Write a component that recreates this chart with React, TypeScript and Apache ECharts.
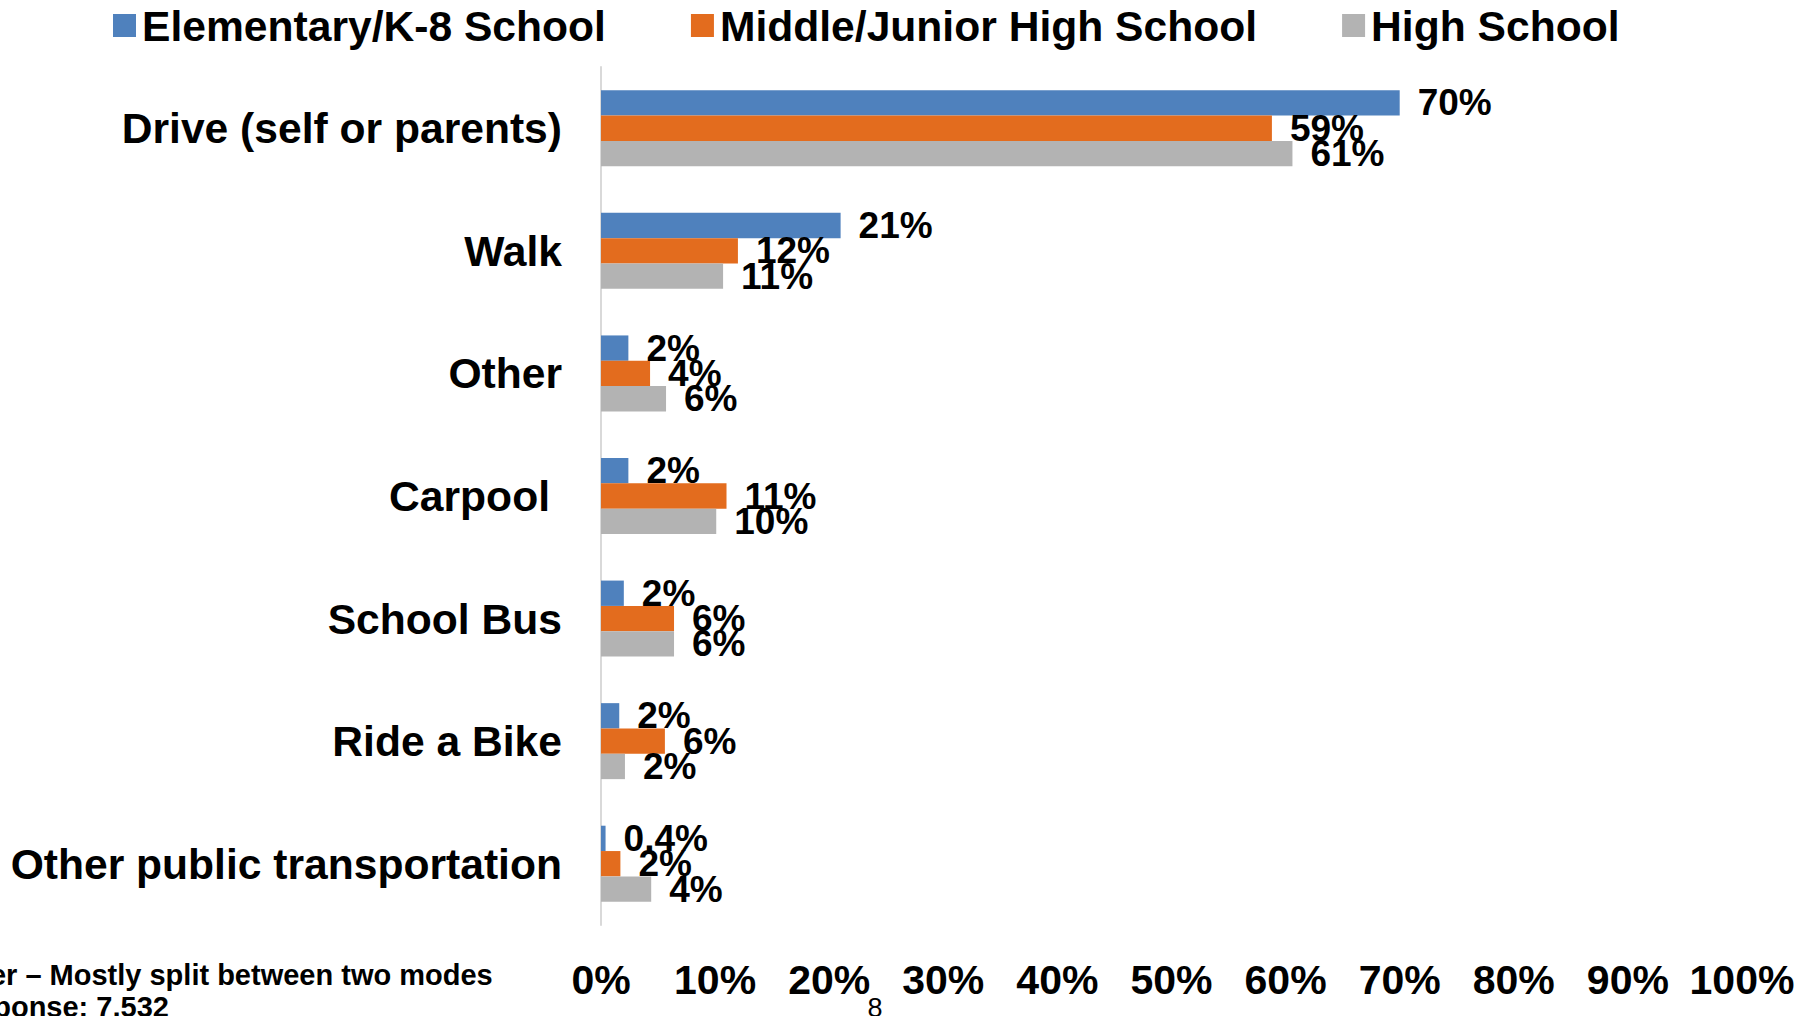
import React, { useEffect, useRef } from "react";
import * as echarts from "echarts";

const categories = [
  "Drive (self or parents)",
  "Walk",
  "Other",
  "Carpool",
  "School Bus",
  "Ride a Bike",
  "Other public transportation",
];
const seriesNames = ["Elementary/K-8 School", "Middle/Junior High School", "High School"];
const elementary = [70, 21, 2.4, 2.4, 2.0, 1.6, 0.4];
const middle = [58.8, 12, 4.3, 11, 6.4, 5.6, 1.7];
const high = [60.6, 10.7, 5.7, 10.1, 6.4, 2.1, 4.4];
const xTicks = [0, 10, 20, 30, 40, 50, 60, 70, 80, 90, 100];
const footnoteLines = ["Other – Mostly split between two modes", "Response: 7,532"];
const pageNumber = "8";

const FONT = "'Liberation Sans', Arial, Helvetica, sans-serif";
const colors = ["#4f81bd", "#e36c1e", "#b3b3b3"];

function fmtPct(v: number) {
  return v < 1 ? v.toFixed(1) + "%" : Math.round(v) + "%";
}

export default function App() {
  const ref = useRef<HTMLDivElement>(null);
  useEffect(() => {
    if (!ref.current) return;
    const chart = echarts.init(ref.current, undefined, { renderer: "svg" });
    const dataSets = [elementary, middle, high];
    chart.setOption({
      animation: false,
      backgroundColor: "#ffffff",
      legend: {
        top: -1,
        left: 108,
        itemWidth: 23,
        itemHeight: 23,
        itemGap: 85,
        icon: "rect",
        data: seriesNames,
        textStyle: {
          fontFamily: FONT,
          fontWeight: "bold",
          fontSize: 42.6,
          color: "#000",
          padding: [0, 0, 0, 1],
        },
      },
      grid: { left: 601, right: 62, top: 67, bottom: 91, containLabel: false },
      xAxis: {
        type: "value",
        min: 0,
        max: 100,
        interval: 10,
        axisLine: { show: false },
        axisTick: { show: false },
        splitLine: { show: false },
        axisLabel: {
          margin: 34,
          fontFamily: FONT,
          fontWeight: "bold",
          fontSize: 41,
          color: "#000",
          formatter: (v: number) => (xTicks.includes(v) ? v + "%" : ""),
        },
      },
      yAxis: {
        type: "category",
        inverse: true,
        data: categories,
        axisLine: { show: true, lineStyle: { color: "#d9d9d9", width: 2 } },
        axisTick: { show: false },
        axisLabel: {
          margin: 39,
          fontFamily: FONT,
          fontWeight: "bold",
          fontSize: 42.6,
          color: "#000",
          formatter: (v: string) => (v === "Carpool" ? "{c|" + v + "}" : v),
          rich: {
            c: {
              fontFamily: FONT,
              fontWeight: "bold",
              fontSize: 42.6,
              color: "#000",
              padding: [0, 12, 0, 0],
            },
          },
        },
      },
      series: seriesNames.map((name, i) => ({
        name,
        type: "bar",
        data: dataSets[i],
        barGap: "0%",
        barCategoryGap: "38%",
        itemStyle: { color: colors[i] },
        label: {
          show: true,
          position: "right",
          distance: 18,
          fontFamily: FONT,
          fontWeight: "bold",
          fontSize: 37,
          color: "#000",
          formatter: (p: any) => fmtPct(p.value),
        },
      })),
      graphic: [
        {
          type: "text",
          left: -60,
          top: 959,
          style: {
            text: footnoteLines.join("\n"),
            fontFamily: FONT,
            fontWeight: "bold",
            fontSize: 29,
            lineHeight: 32,
            fill: "#000",
          },
        },
        {
          type: "text",
          x: 875,
          y: 1008,
          style: {
            text: pageNumber,
            fontFamily: FONT,
            fontSize: 27,
            fill: "#000",
            align: "center",
            verticalAlign: "middle",
          },
        },
      ],
    });
    return () => chart.dispose();
  }, []);
  return (
    <div
      ref={ref}
      style={{ position: "fixed", left: 0, top: 0, width: 1804, height: 1016 }}
    />
  );
}
